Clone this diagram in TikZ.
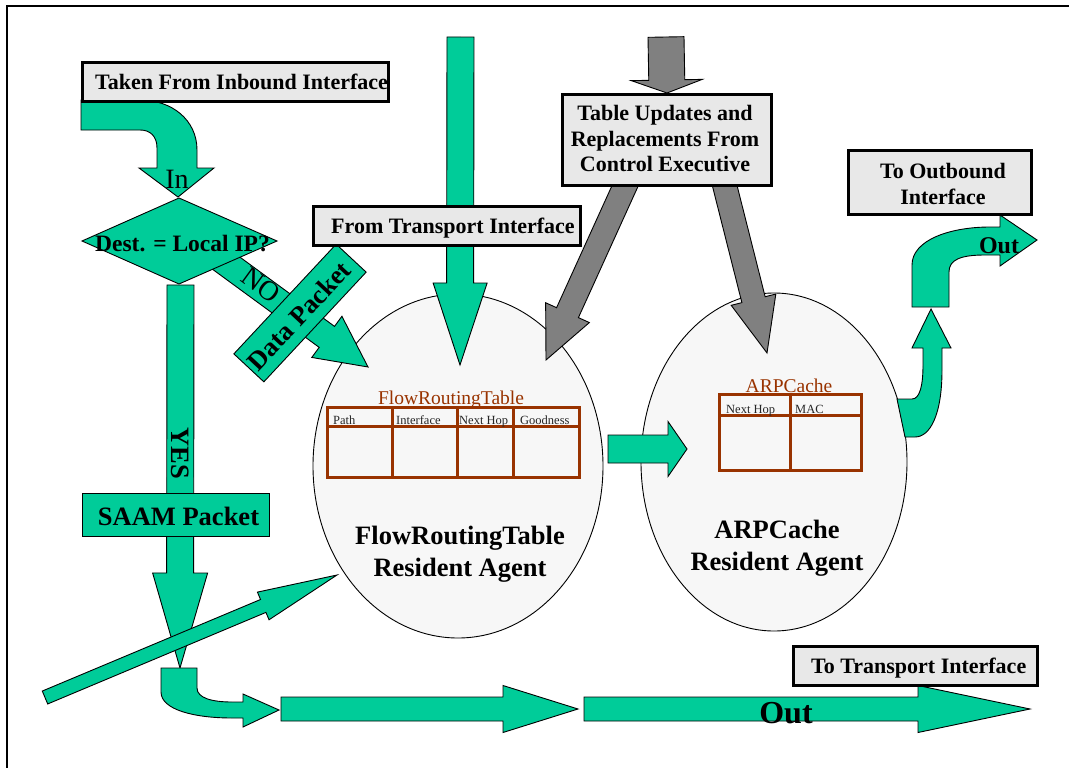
\documentclass[tikz,border=0pt]{standalone}
\usepackage{fontspec}
\setmainfont{Liberation Serif}
\usetikzlibrary{calc,shapes.geometric}
\definecolor{cGreen}{RGB}{0,204,153}
\definecolor{cGray}{RGB}{128,128,128}
\definecolor{cBox}{RGB}{232,232,232}
\definecolor{cEll}{RGB}{247,247,247}
\definecolor{cBrown}{RGB}{153,51,0}
\newcommand{\blockarr}[7]{%
 \coordinate (#7h) at ($(#3)!#6!(#2)$);
 \path[#1] ($(#2)!#4!90:(#3)$) -- ($(#7h)!#4!90:(#3)$) -- ($(#7h)!#5!90:(#3)$) -- (#3) -- ($(#7h)!#5!-90:(#3)$) -- ($(#7h)!#4!-90:(#3)$) -- ($(#2)!#4!-90:(#3)$) -- cycle;}
\begin{document}
\begin{tikzpicture}[x=1pt,y=-1pt,
 grn/.style={fill=cGreen,draw=black,line width=0.9pt,line join=miter},
 gry/.style={fill=cGray,draw=black,line width=0.9pt},
 gbox/.style={draw=black,line width=3pt,fill=cBox,inner sep=0pt,anchor=north west},
 ell/.style={ellipse,draw=black,line width=0.9pt,fill=cEll,inner sep=0pt},
 tbl/.style={draw=cBrown,line width=3pt},
 lbl/.style={font=\fontsize{22}{25.5}\selectfont\bfseries,inner sep=0pt},
 biglbl/.style={font=\fontsize{26.5}{32}\selectfont\bfseries,inner sep=0pt},
 ttl/.style={font=\fontsize{19.5}{22}\selectfont,text=cBrown,inner sep=0pt},
 hdr/.style={font=\fontsize{12.5}{14}\selectfont,text=black!85,inner sep=0pt,anchor=base west},
 reg/.style={font=\fontsize{28}{32}\selectfont,inner sep=0pt}]
\useasboundingbox (0,0) rectangle (1069,768);
\fill[white] (0,0) rectangle (1069,768);
\draw[line width=2pt] (6.5,768) -- (6.5,6) -- (1069,6);

% ellipses (agents)
\node[ell,minimum width=290pt,minimum height=344pt] (frt) at (458,466) {};
\node[ell,minimum width=266pt,minimum height=338pt] (arp) at (774,462) {};

% tables
\draw[tbl] (327,407) rectangle (579,477);
\draw[tbl] (327,426) -- (579,426);
\foreach \xx in {392,457,513} \draw[tbl] (\xx,407) -- (\xx,477);
\node[ttl,anchor=base] (frtT) at (451,404) {FlowRoutingTable};
\node[hdr] (h1) at (333,424) {Path};
\node[hdr] (h2) at (396,424) {Interface};
\node[hdr] (h3) at (459,424) {Next Hop};
\node[hdr] (h4) at (520,424) {Goodness};
\draw[tbl] (719,394) rectangle (861,470);
\draw[tbl] (719,415) -- (861,415);
\draw[tbl] (790,394) -- (790,470);
\node[ttl,anchor=base] (arpT) at (789,392) {ARPCache};
\node[hdr] (h5) at (726,413) {Next Hop};
\node[hdr] (h6) at (795,413) {MAC};
\node[biglbl,align=center] (frtL) at (460,554) {FlowRoutingTable\\Resident Agent};
\node[biglbl,align=center] (arpL) at (777,548) {ARPCache\\Resident Agent};

% straight block arrows
\coordinate (eA) at (460.5,37); \coordinate (eB) at (460,365);
\blockarr{grn}{eA}{eB}{13.5pt}{27pt}{82pt}{e}
\coordinate (fA) at (666,37); \coordinate (fB) at (667,93);
\blockarr{gry}{fA}{fB}{18pt}{35.5pt}{13pt}{f}
\coordinate (gA) at (630,175); \coordinate (gB) at (546,360);
\blockarr{gry}{gA}{gB}{12pt}{24pt}{52pt}{g}
\coordinate (hA) at (722,175); \coordinate (hB) at (767,353);
\blockarr{gry}{hA}{hB}{12pt}{23pt}{55pt}{hh}
\coordinate (nA) at (200,244); \coordinate (nB) at (368,367);
\blockarr{grn}{nA}{nB}{13pt}{25.5pt}{51pt}{n}

% decision diamond
\path[grn] (82,241) -- (179,198) -- (277,241) -- (179,284) -- cycle;
\node[lbl,font=\fontsize{23.5}{26}\selectfont\bfseries,anchor=base west] (dest) at (95,251) {Dest. = Local IP?};
\node[reg,rotate=-36] (noL) at (261,285) {NO};

% data packet box
\node[grn,rotate=47,minimum width=150pt,minimum height=41pt,inner sep=0pt] (dp) at (300,313) {};
\node[biglbl,rotate=47] (dpL) at (299,316) {Data Packet};

% In arrow
\path[grn] (81,100) -- (140,100) .. controls (172,100) and (197,120) .. (197,150) -- (197,168) -- (214,168) -- (178,197) -- (139,168) -- (157,168) -- (157,148) .. controls (157,136) and (150,130) .. (140,130) -- (81,130) -- cycle;

% YES arrow and SAAM box
\coordinate (yA) at (180.5,285); \coordinate (yB) at (180,668);
\blockarr{grn}{yA}{yB}{13.5pt}{27.5pt}{95pt}{y}
\node[grn,anchor=north west,minimum width=187pt,minimum height=43pt,inner sep=0pt] (saam) at (82,493) {};
\node[biglbl,anchor=base] (saamL) at (178.5,525) {SAAM Packet};

% diagonal arrow
\coordinate (dA) at (45,697.5); \coordinate (dB) at (337,575);
\blockarr{grn}{dA}{dB}{7pt}{15pt}{80pt}{d}

% bottom bent arrow and out arrows
\path[grn] (161,668) -- (197,668) -- (197,688) .. controls (197,698) and (212,702) .. (232,702) -- (243,702) -- (243,694) -- (279,710) -- (243,727) -- (243,718) -- (232,718) .. controls (195,718) and (161,710) .. (161,692) -- cycle;
\coordinate (bA) at (281,709); \coordinate (bB) at (578,709);
\blockarr{grn}{bA}{bB}{12pt}{23.5pt}{75pt}{b}
\coordinate (oA) at (584,709); \coordinate (oB) at (1030,709);
\blockarr{grn}{oA}{oB}{12pt}{23.5pt}{112pt}{o}

% between agents
\coordinate (iA) at (608,449); \coordinate (iB) at (687,449);
\blockarr{grn}{iA}{iB}{14pt}{27.5pt}{19pt}{i}

% right side arrows
\path[grn] (897,399) -- (912,399) .. controls (920,399) and (923,385) .. (923,365) -- (923,348) -- (912,348) -- (931,309) -- (951,348) -- (942,348) -- (942,370) .. controls (942,415) and (930,437) .. (915,437) -- (905,437) -- cycle;
\path[grn] (912,307) -- (912,265) .. controls (912,240) and (950,227) .. (990,227) -- (1000,227) -- (1000,215) -- (1037,240) -- (1000,266) -- (1000,255) -- (985,255) .. controls (960,255) and (949,260) .. (949,272) -- (949,307) -- cycle;

% gray boxes
\node[gbox,minimum width=306pt,minimum height=39pt] (inb) at (81,61) {};
\node[lbl,anchor=base west] (inbL) at (95,90) {Taken From Inbound Interface};
\node[gbox,minimum width=267pt,minimum height=39pt] (tri) at (312,205) {};
\node[lbl,anchor=base west] (triL) at (331,233) {From Transport Interface};
\node[gbox,minimum width=209pt,minimum height=91pt] (tue) at (561,93) {};
\node[lbl,align=center] (tueL) at (665,139) {Table Updates and\\Replacements From\\Control Executive};
\node[gbox,minimum width=183pt,minimum height=64pt] (toi) at (847,149) {};
\node[lbl,align=center] (toiL) at (943,184) {To Outbound\\Interface};
\node[gbox,minimum width=244pt,minimum height=39pt] (tti) at (792,645) {};
\node[lbl,anchor=base west] (ttiL) at (811,673) {To Transport Interface};

% arrow labels
\node[reg,anchor=base] (inL) at (177,188) {In};
\node[biglbl,rotate=-90] (yesL) at (180,453) {YES};
\node[lbl,font=\fontsize{32}{36}\selectfont\bfseries,anchor=base] (out1) at (786,723) {Out};
\node[lbl,font=\fontsize{24}{28}\selectfont\bfseries,anchor=base] (out2) at (999,253) {Out};
\end{tikzpicture}
\end{document}
